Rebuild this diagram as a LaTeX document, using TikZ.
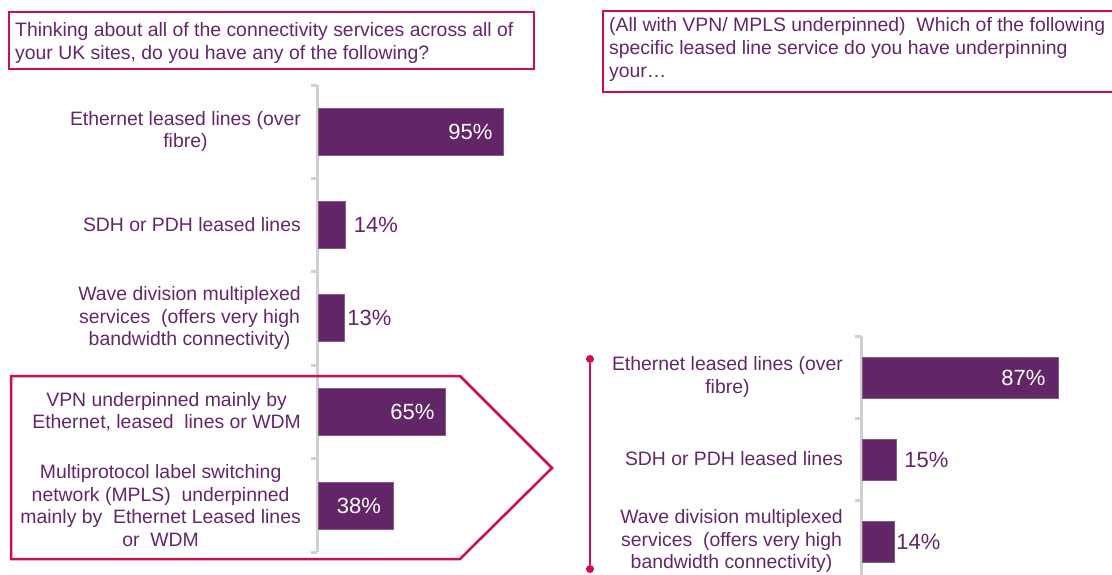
\documentclass[tikz,border=0pt]{standalone}
\usepackage{fontspec}
\setmainfont{Liberation Sans}
\definecolor{barc}{RGB}{98,37,103}
\definecolor{txt}{RGB}{100,38,106}
\definecolor{crim}{RGB}{206,14,72}
\definecolor{axisc}{RGB}{208,208,208}
\begin{document}
\begin{tikzpicture}[x=1pt,y=-1pt,
  cat/.style={anchor=east, align=center, text=txt, font=\fontsize{19.4}{22.5}\selectfont, inner sep=0pt},
  title/.style={anchor=north west, align=left, text=txt, font=\fontsize{19.4}{23.2}\selectfont, inner sep=0pt},
  barbox/.style={fill=barc, draw=barc!75!white, line width=0.6pt, anchor=west, inner sep=0pt, minimum height=#1},
  pin/.style={anchor=east, text=white, font=\fontsize{22}{26}\selectfont, inner sep=0pt},
  pout/.style={anchor=west, text=txt, font=\fontsize{22}{26}\selectfont, inner sep=0pt},
  axisline/.style={draw=axisc, line width=3pt},
  frame/.style={draw=crim, line width=2.5pt, line join=miter},
  dot/.style={circle, fill=crim, inner sep=0pt, minimum size=8pt}]
\useasboundingbox (0,0) rectangle (1112,574);
\clip (0,0) rectangle (1112,574);

% ---------- titles ----------
\draw[frame] (9,12) rectangle (534,69);
\node[title] (t1) at (15,22) {Thinking about all of the connectivity services across all of\\your UK sites, do you have any of the following?};
\draw[frame] (1130,11) -- (603,11) -- (603,92) -- (1130,92);
\node[title] (t2) at (609,17) {(All with VPN/ MPLS underpinned)~ Which of the following\\specific leased line service do you have underpinning\\your\ldots};

% ---------- left chart ----------
\coordinate (la0) at (317,85);
\coordinate (la5) at (317,552);
\draw[axisline] (la0) -- (la5);
\foreach \y in {85,178,271.5,365,458.5,552} \draw[axisline] (311,\y) -- (317,\y);

\node[barbox=47pt, minimum width=185pt] (lb1) at (318,131.5) {};
\node[barbox=47pt, minimum width=27pt] (lb2) at (318,224.5) {};
\node[barbox=47pt, minimum width=25.5pt] (lb3) at (318,318) {};
\node[barbox=47pt, minimum width=127pt] (lb4) at (318,411.5) {};
\node[barbox=47pt, minimum width=74.5pt] (lb5) at (318,505.5) {};

\node[pin] (lp1) at ([xshift=-11pt]lb1.east) {95\%};
\node[pout] (lp2) at ([xshift=8pt]lb2.east) {14\%};
\node[pout] (lp3) at ([xshift=3pt]lb3.east) {13\%};
\node[pin] (lp4) at ([xshift=-11pt]lb4.east) {65\%};
\node[pin] (lp5) at ([xshift=-12pt]lb5.east) {38\%};

\node[cat] (lc1) at (301,131.5) {Ethernet leased lines (over\\fibre)};
\node[cat] (lc2) at (301,224.5) {SDH or PDH leased lines};
\node[cat] (lc3) at (301,318) {Wave division multiplexed\\services~ (offers very high\\bandwidth connectivity)};
\node[cat] (lc4) at (301,411.5) {VPN underpinned mainly by\\Ethernet, leased~ lines or WDM};
\node[cat] (lc5) at (301,505.5) {Multiprotocol label switching\\network (MPLS)~ underpinned\\mainly by~ Ethernet Leased lines\\or~ WDM};

\draw[frame] (11,376) -- (460,376) -- (552,468) -- (460,559) -- (11,559) -- cycle;

% ---------- right chart ----------
\coordinate (ra0) at (861,336);
\coordinate (ra3) at (861,590);
\draw[axisline] (ra0) -- (ra3);
\foreach \y in {336,418,500} \draw[axisline] (855,\y) -- (861,\y);

\node[barbox=41pt, minimum width=196pt] (rb1) at (862,377.5) {};
\node[barbox=41pt, minimum width=33.5pt] (rb2) at (862,459.5) {};
\node[barbox=41pt, minimum width=31.5pt] (rb3) at (862,541.5) {};

\node[pin] (rp1) at ([xshift=-13pt]rb1.east) {87\%};
\node[pout] (rp2) at ([xshift=8pt]rb2.east) {15\%};
\node[pout] (rp3) at ([xshift=2pt]rb3.east) {14\%};

\node[cat] (rc1) at (843,377) {Ethernet leased lines (over\\fibre)};
\node[cat] (rc2) at (843,459) {SDH or PDH leased lines};
\node[cat] (rc3) at (843,541) {Wave division multiplexed\\services~ (offers very high\\bandwidth connectivity)};

\node[dot] (d1) at (590,359) {};
\node[dot] (d2) at (590,569) {};
\draw[crim, line width=2.5pt] (d1) -- (d2);
\end{tikzpicture}
\end{document}
